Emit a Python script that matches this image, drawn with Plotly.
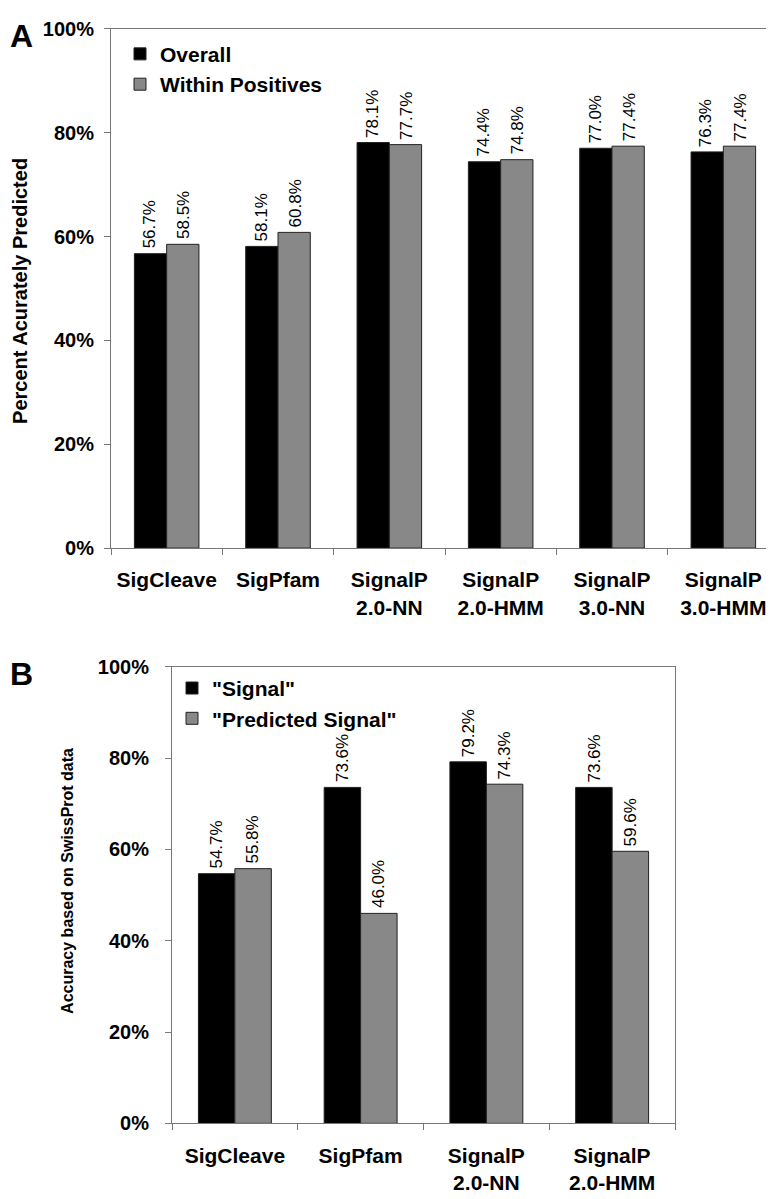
import plotly.graph_objects as go

# Panel A data
cats_a = ["SigCleave", "SigPfam", "SignalP<br>2.0-NN", "SignalP<br>2.0-HMM",
          "SignalP<br>3.0-NN", "SignalP<br>3.0-HMM"]
overall = [56.7, 58.1, 78.1, 74.4, 77.0, 76.3]
within_pos = [58.5, 60.8, 77.7, 74.8, 77.4, 77.4]

# Panel B data
cats_b = ["SigCleave", "SigPfam", "SignalP<br>2.0-NN", "SignalP<br>2.0-HMM"]
signal = [54.7, 73.6, 79.2, 73.6]
pred_signal = [55.8, 46.0, 74.3, 59.6]

W, H = 774, 1199
FONT = "Liberation Sans, Arial, Helvetica, sans-serif"
BLACK = "#000000"
GRAY = "#888888"
FRAME = "#777777"


def px(x):
    return x / W


def py(y):
    return 1 - y / H


fig = go.Figure()


def add_bar(x, y, name, color, xa, ya, legend, shift):
    fig.add_trace(go.Bar(
        x=x, y=y, name=name,
        marker=dict(color=color, line=dict(color="#222222", width=1)),
        xaxis=xa, yaxis=ya, legend=legend,
    ))
    # rotated value labels sitting on top of each bar
    for c, v in zip(x, y):
        fig.add_annotation(
            x=c, y=v, xref=xa, yref=ya, text=f"{v:.1f}%", showarrow=False,
            textangle=-90, xanchor="center", yanchor="bottom",
            xshift=shift, yshift=3,
            font=dict(family=FONT, size=17, color="black"),
        )


add_bar(cats_a, overall, "Overall", BLACK, "x", "y", "legend", -17)
add_bar(cats_a, within_pos, "Within Positives", GRAY, "x", "y", "legend", 17)
add_bar(cats_b, signal, '"Signal"', BLACK, "x2", "y2", "legend2", -18)
add_bar(cats_b, pred_signal, '"Predicted Signal"', GRAY, "x2", "y2", "legend2", 18)

tickfont = dict(family=FONT, size=20, color="black", weight="bold")
xcommon = dict(type="category", tickson="boundaries", ticks="outside", ticklen=6,
               tickcolor=FRAME, showline=True, linecolor=FRAME, linewidth=1,
               mirror=True, showgrid=False,
               tickfont=dict(family=FONT, size=21, color="black", weight="bold"),
               ticklabelstandoff=13, fixedrange=True)
ycommon = dict(range=[0, 100], dtick=20, ticksuffix="%", ticks="outside", ticklen=6,
               tickcolor=FRAME, showline=True, linecolor=FRAME, linewidth=1,
               mirror=True, showgrid=False, zeroline=False, tickfont=tickfont,
               fixedrange=True)

legfont = dict(family=FONT, size=21, weight="bold", color="black")

fig.update_layout(
    width=W, height=H,
    margin=dict(l=0, r=0, t=0, b=0),
    paper_bgcolor="white", plot_bgcolor="white",
    barmode="group", bargap=0.42, bargroupgap=0,
    font=dict(family=FONT, color="black"),
    xaxis=dict(domain=[px(103), px(771)], anchor="y", **xcommon),
    yaxis=dict(domain=[py(539), py(10)], anchor="x", ticklabelstandoff=6, **ycommon),
    xaxis2=dict(domain=[px(164), px(667)], anchor="y2", **xcommon),
    yaxis2=dict(domain=[py(1125), py(660)], anchor="x2", ticklabelstandoff=12, **ycommon),
    legend=dict(x=px(112), y=py(15), xanchor="left", yanchor="top",
                bgcolor="rgba(0,0,0,0)", font=legfont),
    legend2=dict(x=px(164), y=py(661), xanchor="left", yanchor="top",
                 bgcolor="rgba(0,0,0,0)", font=legfont),
    showlegend=True,
)

fig.add_annotation(text="<b>A</b>", x=px(13), y=py(17), xref="paper", yref="paper",
                   xanchor="center", yanchor="middle",
                   showarrow=False, font=dict(family=FONT, size=32))
fig.add_annotation(text="<b>B</b>", x=px(13), y=py(667), xref="paper", yref="paper",
                   xanchor="center", yanchor="middle",
                   showarrow=False, font=dict(family=FONT, size=32))
fig.add_annotation(text="<b>Percent Acurately Predicted</b>", x=px(12), y=py(277),
                   xref="paper", yref="paper", showarrow=False, textangle=-90,
                   xanchor="center", yanchor="middle",
                   font=dict(family=FONT, size=20))
fig.add_annotation(text="<b>Accuracy based on SwissProt data</b>", x=px(60), y=py(878),
                   xref="paper", yref="paper", showarrow=False, textangle=-90,
                   xanchor="center", yanchor="middle",
                   font=dict(family=FONT, size=16))

fig.write_html("out.html")
